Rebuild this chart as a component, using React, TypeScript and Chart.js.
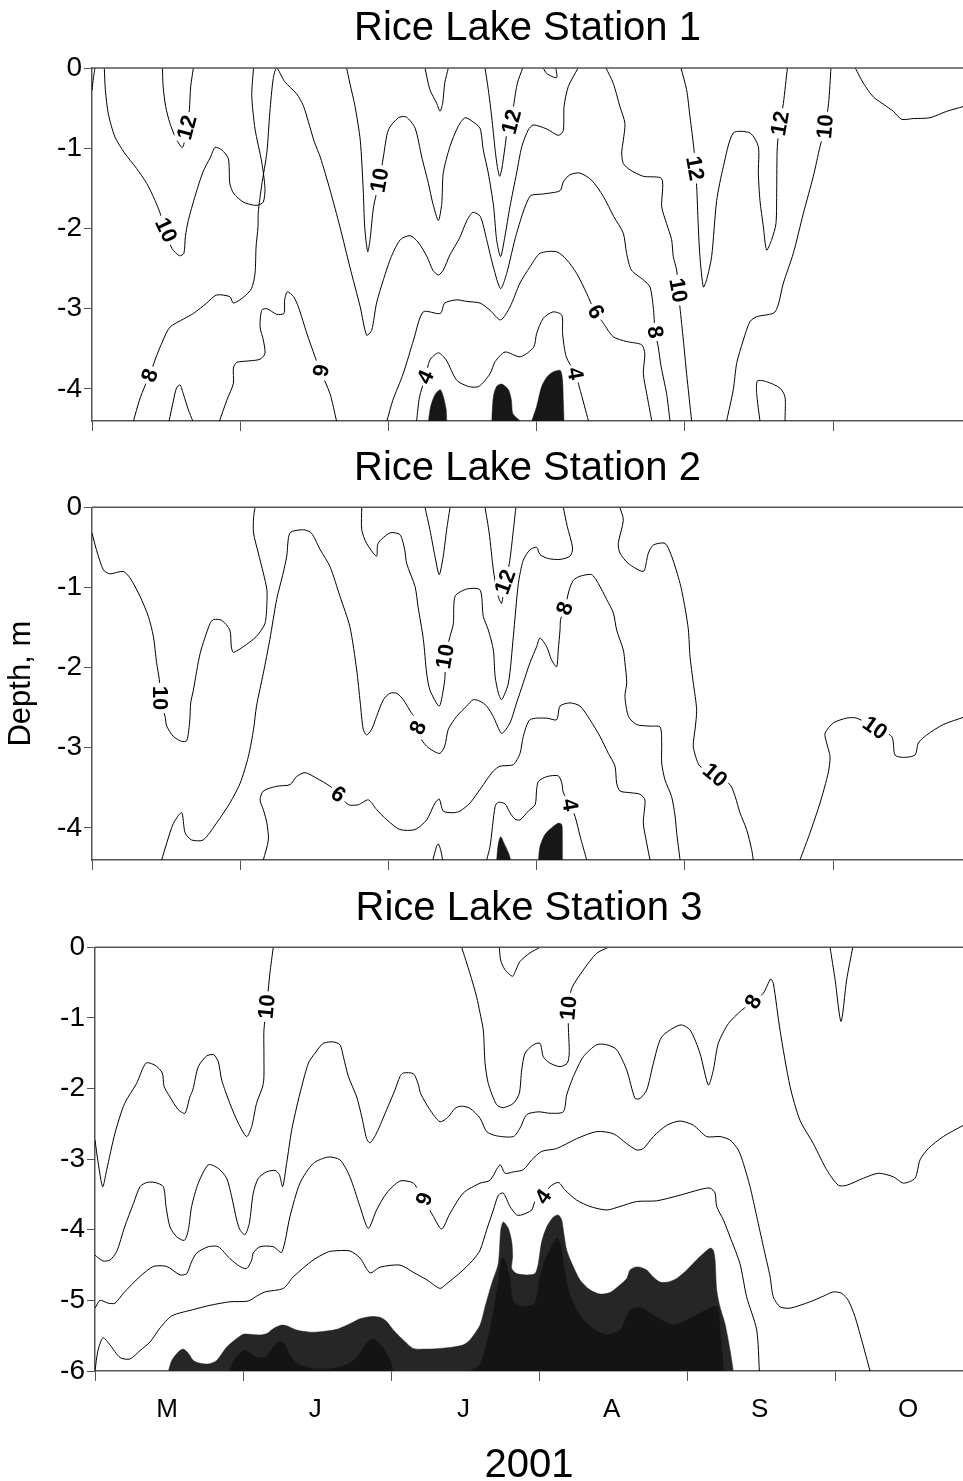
import React, { useEffect, useRef } from "react";
import { Chart, registerables } from "chart.js";
Chart.register(...registerables);

type P = [number, number];
type L = [string, number, number, number];

// x = months since 1 May 2001, y = depth (m)
const MONTHS = ["M", "J", "J", "A", "S", "O"];
const MONTH_TICKS = [0, 1, 2, 3, 4, 5];
const YEAR = "2001";
const TITLES = ["Rice Lake Station 1", "Rice Lake Station 2", "Rice Lake Station 3"];
const DEPTH_TICKS_A = [0, -1, -2, -3, -4];
const DEPTH_TICKS_B = [0, -1, -2, -3, -4, -5, -6];

// ---------- Station 1 isolines ----------
const s1_10edge: P[] = [[0, -0.28], [0.01, -0.12], [0.02, 0]];
const s1_10a: P[] = [[0.083, 0], [0.09, -0.27], [0.11, -0.57], [0.155, -0.86], [0.22, -1.06], [0.3, -1.25], [0.37, -1.44], [0.425, -1.65], [0.46, -1.81], [0.5, -2.05], [0.54, -2.25], [0.59, -2.34], [0.62, -2.31], [0.63, -2.1], [0.65, -1.9], [0.695, -1.6], [0.75, -1.29], [0.8, -1.11], [0.83, -0.99], [0.875, -1.02], [0.92, -1.13], [0.93, -1.44], [0.955, -1.56], [1.02, -1.67], [1.09, -1.71], [1.12, -1.71], [1.156, -1.67], [1.167, -1.5], [1.145, -1.17], [1.1, -0.76], [1.078, -0.34], [1.09, 0]];
const s1_12a: P[] = [[0.475, 0], [0.48, -0.23], [0.497, -0.48], [0.526, -0.69], [0.567, -0.88], [0.61, -0.99], [0.64, -0.76], [0.657, -0.52], [0.666, -0.23], [0.684, 0]];
const s1_8a: P[] = [[0.28, -4.4], [0.32, -4.14], [0.36, -3.95], [0.39, -3.83], [0.425, -3.64], [0.48, -3.39], [0.526, -3.23], [0.616, -3.13], [0.684, -3.06], [0.774, -2.93], [0.84, -2.83], [0.93, -2.85], [0.954, -2.93], [1.02, -2.86], [1.076, -2.75], [1.1, -2.56], [1.107, -2.23], [1.12, -1.98], [1.122, -1.8], [1.145, -1.46], [1.18, -1.05], [1.2, -0.55], [1.223, -0.13], [1.246, 0], [1.3, -0.17], [1.38, -0.32], [1.426, -0.47], [1.46, -0.67], [1.5, -0.92], [1.54, -1.11], [1.606, -1.52], [1.673, -1.98], [1.74, -2.48], [1.81, -2.98], [1.853, -3.33], [1.887, -3.27], [1.92, -2.93], [1.966, -2.64], [2.02, -2.35], [2.08, -2.14], [2.146, -2.09], [2.2, -2.17], [2.26, -2.35], [2.3, -2.52], [2.337, -2.58], [2.37, -2.52], [2.415, -2.33], [2.48, -2.12], [2.53, -1.9], [2.57, -1.8], [2.62, -1.85], [2.663, -2.14], [2.708, -2.48], [2.757, -2.75], [2.798, -2.56], [2.865, -2.06], [2.955, -1.6], [3.045, -1.57], [3.158, -1.53], [3.18, -1.42], [3.225, -1.33], [3.293, -1.31], [3.372, -1.4], [3.45, -1.6], [3.52, -1.85], [3.585, -2.06], [3.607, -2.31], [3.64, -2.52], [3.72, -2.64], [3.765, -2.73], [3.787, -2.98], [3.8, -3.29], [3.82, -3.47], [3.84, -3.72], [3.877, -4.06], [3.9, -4.4]];
const s1_8s: P[] = [[0.52, -4.4], [0.55, -4.14], [0.57, -3.99], [0.594, -3.95], [0.616, -4.06], [0.65, -4.26], [0.68, -4.4]];
const s1_6a: P[] = [[0.86, -4.4], [0.91, -4.14], [0.954, -3.93], [0.954, -3.74], [0.976, -3.67], [1.066, -3.65], [1.134, -3.63], [1.167, -3.56], [1.156, -3.39], [1.134, -3.23], [1.145, -3.02], [1.18, -3.0], [1.246, -3.07], [1.295, -3.06], [1.3, -2.89], [1.318, -2.79], [1.36, -2.85], [1.393, -2.98], [1.45, -3.31], [1.505, -3.6], [1.54, -3.77], [1.606, -4.06], [1.65, -4.4]];
const s1_10b: P[] = [[1.718, 0], [1.74, -0.19], [1.775, -0.48], [1.81, -0.9], [1.83, -1.52], [1.84, -1.98], [1.86, -2.29], [1.876, -2.14], [1.9, -1.73], [1.94, -1.4], [1.966, -1.11], [2.0, -0.77], [2.067, -0.62], [2.12, -0.61], [2.18, -0.75], [2.225, -1.11], [2.27, -1.44], [2.3, -1.69], [2.337, -1.9], [2.36, -1.69], [2.37, -1.31], [2.415, -0.98], [2.47, -0.73], [2.517, -0.62], [2.57, -0.67], [2.618, -0.75], [2.64, -1.02], [2.674, -1.31], [2.71, -1.73], [2.73, -2.14], [2.757, -2.35], [2.786, -2.1], [2.82, -1.73], [2.865, -1.31], [2.9, -0.98], [2.944, -0.77], [2.978, -0.71], [3.068, -0.76], [3.147, -0.84], [3.18, -0.78], [3.185, -0.48], [3.214, -0.23], [3.28, 0]];
const s1_12b: P[] = [[2.247, 0], [2.28, -0.27], [2.326, -0.44], [2.348, -0.54], [2.366, -0.44], [2.38, -0.19], [2.404, 0]];
const s1_12c: P[] = [[2.652, 0], [2.674, -0.27], [2.697, -0.61], [2.72, -1.02], [2.735, -1.23], [2.75, -1.35], [2.764, -1.27], [2.787, -0.98], [2.8, -0.81], [2.83, -0.67], [2.847, -0.44], [2.87, -0.19], [2.906, 0]];
const s1_12s: P[] = [[3.045, 0], [3.068, -0.07], [3.135, -0.12], [3.13, 0]];
const s1_6b: P[] = [[1.99, -4.4], [2.03, -4.14], [2.1, -3.81], [2.17, -3.39], [2.235, -3.04], [2.35, -3.06], [2.38, -2.93], [2.46, -2.89], [2.53, -2.91], [2.618, -2.93], [2.686, -3.02], [2.757, -3.14], [2.82, -2.98], [2.888, -2.68], [2.955, -2.48], [3.023, -2.31], [3.135, -2.29], [3.203, -2.39], [3.27, -2.56], [3.338, -2.81], [3.394, -3.04], [3.45, -3.18], [3.517, -3.35], [3.608, -3.41], [3.709, -3.45], [3.73, -3.56], [3.72, -3.81], [3.743, -4.06], [3.777, -4.4]];
const s1_4: P[] = [[2.19, -4.4], [2.21, -4.1], [2.25, -3.85], [2.28, -3.64], [2.337, -3.55], [2.39, -3.64], [2.46, -3.89], [2.54, -3.97], [2.61, -3.97], [2.686, -3.81], [2.72, -3.66], [2.787, -3.54], [2.89, -3.6], [2.98, -3.48], [3.0, -3.31], [3.045, -3.12], [3.11, -3.04], [3.17, -3.08], [3.175, -3.31], [3.2, -3.6], [3.26, -3.81], [3.29, -3.99], [3.35, -4.4]];
const s1_10c: P[] = [[3.468, 0], [3.517, -0.19], [3.562, -0.48], [3.596, -0.69], [3.585, -0.9], [3.574, -1.06], [3.585, -1.19], [3.63, -1.27], [3.72, -1.35], [3.844, -1.38], [3.844, -1.73], [3.877, -1.94], [3.911, -2.14], [3.922, -2.35], [3.945, -2.52], [3.956, -2.77], [3.967, -2.98], [3.99, -3.39], [4.012, -3.81], [4.046, -4.4]];
const s1_12d: P[] = [[3.974, 0], [4.012, -0.27], [4.035, -0.61], [4.062, -1.02], [4.069, -1.25], [4.08, -1.48], [4.09, -1.94], [4.102, -2.35], [4.125, -2.73], [4.147, -2.64], [4.181, -2.35], [4.215, -1.65], [4.26, -1.23], [4.327, -0.81], [4.44, -0.81], [4.496, -0.98], [4.496, -1.31], [4.507, -1.65], [4.53, -1.98], [4.552, -2.27], [4.586, -2.14], [4.615, -1.94], [4.62, -1.52], [4.624, -0.98], [4.642, -0.69], [4.665, -0.44], [4.692, 0]];
const s1_10d: P[] = [[4.986, 0], [4.97, -0.44], [4.946, -0.73], [4.912, -0.98], [4.867, -1.35], [4.8, -1.81], [4.732, -2.31], [4.665, -2.68], [4.609, -3.04], [4.485, -3.1], [4.44, -3.16], [4.395, -3.39], [4.35, -3.68], [4.327, -4.01], [4.282, -4.4]];
const s1_10e: P[] = [[4.507, -4.4], [4.485, -4.06], [4.49, -3.9], [4.552, -3.91], [4.642, -3.99], [4.676, -4.1], [4.676, -4.4]];
const s1_12e: P[] = [[5.15, 0], [5.205, -0.19], [5.272, -0.36], [5.362, -0.48], [5.407, -0.54], [5.463, -0.64], [5.542, -0.63], [5.654, -0.62], [5.767, -0.54], [5.88, -0.48]];
const s1_low1: P[] = [[2.27, -4.4], [2.285, -4.22], [2.315, -4.07], [2.35, -4.01], [2.37, -4.09], [2.39, -4.26], [2.394, -4.4]];
const s1_low2: P[] = [[2.697, -4.4], [2.708, -4.1], [2.73, -3.97], [2.764, -3.94], [2.81, -4.01], [2.83, -4.14], [2.84, -4.31], [2.89, -4.4]];
const s1_low3: P[] = [[2.967, -4.4], [3.0, -4.22], [3.034, -3.97], [3.07, -3.85], [3.11, -3.79], [3.16, -3.77], [3.175, -3.89], [3.18, -4.14], [3.185, -4.4]];
const s1_labels: L[] = [["12", 0.64, -0.74, -75], ["10", 0.5, -2.02, 65], ["10", 1.94, -1.4, -80], ["8", 0.39, -3.83, -70], ["6", 1.54, -3.77, 100], ["4", 2.25, -3.85, -65], ["4", 3.26, -3.81, 80], ["12", 2.83, -0.67, -75], ["6", 3.4, -3.04, 60], ["8", 3.8, -3.29, 80], ["10", 3.956, -2.77, 80], ["12", 4.069, -1.25, 80], ["12", 4.642, -0.69, -80], ["10", 4.946, -0.73, -85]];

// ---------- Station 2 isolines ----------
const s2_10a: P[] = [[0, -0.32], [0.03, -0.53], [0.077, -0.78], [0.12, -0.83], [0.21, -0.8], [0.256, -0.88], [0.324, -1.11], [0.38, -1.36], [0.414, -1.61], [0.436, -1.94], [0.454, -2.15], [0.46, -2.38], [0.493, -2.61], [0.504, -2.73], [0.55, -2.86], [0.605, -2.92], [0.64, -2.91], [0.66, -2.65], [0.666, -2.44], [0.684, -2.28], [0.73, -1.82], [0.796, -1.45], [0.82, -1.4], [0.875, -1.41], [0.93, -1.53], [0.94, -1.74], [0.954, -1.81], [1.02, -1.74], [1.11, -1.61], [1.167, -1.45], [1.18, -1.2], [1.18, -1.03], [1.156, -0.82], [1.122, -0.57], [1.09, -0.32], [1.09, -0.13], [1.1, 0]];
const s2_8a: P[] = [[0.47, -4.4], [0.504, -4.19], [0.55, -3.94], [0.605, -3.81], [0.628, -4.06], [0.672, -4.15], [0.75, -4.15], [0.84, -3.94], [0.93, -3.69], [1.0, -3.44], [1.055, -3.11], [1.09, -2.77], [1.11, -2.48], [1.156, -2.07], [1.2, -1.65], [1.246, -1.15], [1.29, -0.82], [1.314, -0.61], [1.336, -0.32], [1.426, -0.28], [1.48, -0.32], [1.54, -0.53], [1.606, -0.74], [1.673, -1.11], [1.74, -1.49], [1.786, -2.03], [1.81, -2.44], [1.83, -2.77], [1.853, -2.84], [1.887, -2.77], [1.92, -2.61], [1.966, -2.4], [2.01, -2.32], [2.056, -2.32], [2.1, -2.4], [2.157, -2.57], [2.19, -2.65], [2.2, -2.75], [2.224, -2.9], [2.258, -2.98], [2.303, -3.04], [2.348, -3.07], [2.38, -2.98], [2.404, -2.77], [2.46, -2.61], [2.528, -2.48], [2.573, -2.4], [2.618, -2.42], [2.663, -2.48], [2.708, -2.61], [2.764, -2.82], [2.82, -2.69], [2.865, -2.44], [2.91, -2.19], [2.955, -1.94], [3.0, -1.74], [3.023, -1.63], [3.068, -1.74], [3.1, -1.9], [3.135, -1.99], [3.146, -1.78], [3.158, -1.53], [3.162, -1.4], [3.19, -1.26], [3.22, -1.03], [3.248, -0.91], [3.293, -0.86], [3.371, -0.84], [3.416, -0.95], [3.473, -1.15], [3.518, -1.32], [3.54, -1.53], [3.585, -1.78], [3.596, -1.94], [3.608, -2.19], [3.596, -2.36], [3.62, -2.61], [3.675, -2.71], [3.765, -2.73], [3.833, -2.74], [3.844, -2.94], [3.844, -3.19], [3.866, -3.4], [3.911, -3.61], [3.934, -3.85], [3.945, -4.06], [3.968, -4.4]];
const s2_10b: P[] = [[1.82, 0], [1.82, -0.28], [1.853, -0.45], [1.92, -0.61], [1.93, -0.45], [2.01, -0.32], [2.078, -0.34], [2.11, -0.53], [2.123, -0.7], [2.18, -0.99], [2.2, -1.24], [2.236, -1.65], [2.258, -2.07], [2.28, -2.28], [2.343, -2.48], [2.37, -2.28], [2.382, -2.11], [2.382, -1.86], [2.416, -1.61], [2.438, -1.45], [2.45, -1.11], [2.528, -1.02], [2.618, -1.03], [2.64, -1.36], [2.674, -1.53], [2.708, -1.78], [2.72, -2.11], [2.742, -2.32], [2.764, -2.4], [2.81, -2.19], [2.843, -1.61], [2.877, -0.95], [2.91, -0.66], [2.955, -0.53], [3.0, -0.5], [3.023, -0.59], [3.08, -0.64], [3.158, -0.65], [3.225, -0.61], [3.243, -0.51], [3.207, -0.24], [3.18, 0]];
const s2_12a: P[] = [[2.247, 0], [2.28, -0.28], [2.314, -0.61], [2.343, -0.84], [2.37, -0.61], [2.393, -0.28], [2.416, 0]];
const s2_12b: P[] = [[2.652, 0], [2.68, -0.32], [2.708, -0.78], [2.73, -1.03], [2.748, -1.15], [2.764, -1.2], [2.787, -0.93], [2.816, -0.7], [2.838, -0.37], [2.86, 0]];
const s2_10c: P[] = [[3.562, 0], [3.585, -0.16], [3.551, -0.45], [3.562, -0.57], [3.618, -0.7], [3.72, -0.8], [3.743, -0.66], [3.754, -0.57], [3.788, -0.47], [3.866, -0.45], [3.911, -0.61], [3.968, -0.95], [4.0, -1.24], [4.024, -1.53], [4.035, -1.86], [4.057, -2.19], [4.08, -2.53], [4.069, -2.77], [4.057, -2.98], [4.08, -3.15], [4.102, -3.23], [4.204, -3.34], [4.305, -3.46], [4.34, -3.61], [4.372, -3.81], [4.417, -4.02], [4.451, -4.27], [4.462, -4.4]];
const s2_10d: P[] = [[4.777, -4.4], [4.845, -4.06], [4.912, -3.69], [4.968, -3.31], [4.98, -3.11], [4.957, -2.94], [4.946, -2.82], [5.002, -2.69], [5.092, -2.63], [5.16, -2.63], [5.283, -2.75], [5.396, -2.86], [5.418, -3.09], [5.474, -3.12], [5.553, -3.09], [5.576, -2.94], [5.632, -2.84], [5.744, -2.71], [5.88, -2.62]];
const s2_6: P[] = [[1.156, -4.4], [1.19, -4.15], [1.18, -3.94], [1.156, -3.77], [1.134, -3.65], [1.156, -3.54], [1.246, -3.48], [1.336, -3.46], [1.38, -3.36], [1.437, -3.31], [1.516, -3.38], [1.606, -3.48], [1.662, -3.58], [1.73, -3.71], [1.797, -3.71], [1.865, -3.65], [1.92, -3.77], [1.99, -3.9], [2.078, -4.02], [2.18, -4.02], [2.258, -3.9], [2.314, -3.69], [2.343, -3.64], [2.37, -3.79], [2.438, -3.81], [2.483, -3.79], [2.55, -3.69], [2.618, -3.52], [2.663, -3.4], [2.708, -3.29], [2.753, -3.23], [2.843, -3.21], [2.888, -3.07], [2.91, -2.86], [2.955, -2.65], [3.068, -2.63], [3.135, -2.65], [3.158, -2.48], [3.225, -2.44], [3.293, -2.48], [3.36, -2.65], [3.428, -2.86], [3.484, -3.07], [3.529, -3.23], [3.54, -3.44], [3.563, -3.54], [3.63, -3.56], [3.698, -3.58], [3.731, -3.65], [3.72, -3.94], [3.743, -4.19], [3.765, -4.4]];
const s2_4: P[] = [[2.663, -4.4], [2.686, -4.23], [2.72, -3.73], [2.742, -3.68], [2.787, -3.7], [2.82, -3.81], [2.854, -3.89], [2.888, -3.9], [2.944, -3.79], [2.99, -3.71], [3.0, -3.52], [3.012, -3.42], [3.068, -3.36], [3.146, -3.35], [3.17, -3.44], [3.18, -3.56], [3.225, -3.71], [3.26, -3.86], [3.293, -4.1], [3.338, -4.4]];
const s2_4s: P[] = [[2.3, -4.4], [2.325, -4.23], [2.337, -4.2], [2.352, -4.27], [2.366, -4.4]];
const s2_low1: P[] = [[2.73, -4.4], [2.742, -4.19], [2.758, -4.11], [2.78, -4.19], [2.81, -4.31], [2.825, -4.4]];
const s2_low2: P[] = [[3.012, -4.4], [3.023, -4.23], [3.057, -4.08], [3.1, -4.0], [3.146, -3.94], [3.17, -3.96], [3.175, -4.14], [3.175, -4.4]];
const s2_labels: L[] = [["10", 0.46, -2.38, 90], ["8", 2.2, -2.75, -65], ["10", 2.382, -1.86, -80], ["6", 1.662, -3.58, 35], ["12", 2.787, -0.93, -70], ["8", 3.19, -1.26, -70], ["4", 3.225, -3.71, 80], ["10", 4.204, -3.34, 40], ["10", 5.283, -2.75, 35]];

// ---------- Station 3 isolines ----------
const s3_10a: P[] = [[0, -2.73], [0.022, -3.06], [0.052, -3.39], [0.079, -3.15], [0.135, -2.63], [0.2, -2.21], [0.28, -1.93], [0.344, -1.64], [0.405, -1.67], [0.454, -1.78], [0.466, -1.97], [0.506, -2.12], [0.562, -2.3], [0.607, -2.35], [0.64, -2.12], [0.66, -2.02], [0.697, -1.69], [0.753, -1.54], [0.8, -1.52], [0.832, -1.62], [0.855, -1.88], [0.91, -2.21], [0.967, -2.49], [1.023, -2.68], [1.057, -2.54], [1.09, -2.21], [1.136, -1.93], [1.14, -1.55], [1.14, -1.17], [1.158, -0.84], [1.18, -0.37], [1.203, 0]];
const s3_8: P[] = [[0, -4.36], [0.052, -4.44], [0.1, -4.43], [0.146, -4.31], [0.2, -3.96], [0.259, -3.63], [0.304, -3.39], [0.349, -3.33], [0.405, -3.33], [0.461, -3.39], [0.479, -3.67], [0.506, -3.96], [0.551, -4.1], [0.603, -4.15], [0.63, -4.0], [0.652, -3.67], [0.697, -3.34], [0.765, -3.08], [0.832, -3.13], [0.888, -3.27], [0.922, -3.53], [0.956, -3.86], [0.978, -4.0], [1.012, -4.07], [1.041, -3.91], [1.068, -3.48], [1.102, -3.27], [1.158, -3.18], [1.215, -3.16], [1.244, -3.22], [1.266, -3.39], [1.293, -3.06], [1.327, -2.59], [1.361, -2.26], [1.395, -1.97], [1.44, -1.64], [1.484, -1.5], [1.54, -1.36], [1.608, -1.34], [1.653, -1.38], [1.676, -1.55], [1.71, -1.83], [1.766, -2.12], [1.8, -2.4], [1.833, -2.71], [1.856, -2.77], [1.9, -2.63], [1.968, -2.3], [2.024, -2.02], [2.058, -1.83], [2.08, -1.78], [2.148, -1.79], [2.18, -1.93], [2.197, -2.07], [2.26, -2.3], [2.328, -2.47], [2.384, -2.4], [2.43, -2.28], [2.474, -2.25], [2.53, -2.28], [2.598, -2.42], [2.643, -2.61], [2.71, -2.67], [2.823, -2.68], [2.868, -2.56], [2.913, -2.37], [2.992, -2.33], [3.07, -2.35], [3.16, -2.33], [3.183, -2.09], [3.228, -1.83], [3.295, -1.55], [3.385, -1.38], [3.453, -1.38], [3.52, -1.45], [3.588, -1.74], [3.644, -2.14], [3.678, -2.14], [3.723, -2.02], [3.768, -1.64], [3.824, -1.27], [3.948, -1.1], [4.015, -1.17], [4.082, -1.5], [4.139, -1.95], [4.172, -1.74], [4.206, -1.36], [4.274, -1.08], [4.364, -0.89], [4.442, -0.77], [4.51, -0.65], [4.559, -0.45], [4.577, -0.51], [4.622, -1.17], [4.69, -1.97], [4.757, -2.45], [4.847, -2.78], [4.937, -3.15], [5.016, -3.37], [5.072, -3.37], [5.185, -3.27], [5.286, -3.2], [5.387, -3.25], [5.455, -3.34], [5.533, -3.27], [5.567, -3.01], [5.623, -2.85], [5.724, -2.68], [5.86, -2.52]];
const s3_10b: P[] = [[2.474, 0], [2.53, -0.37], [2.575, -0.7], [2.598, -0.93], [2.62, -1.17], [2.632, -1.64], [2.654, -1.93], [2.71, -2.23], [2.755, -2.27], [2.823, -2.21], [2.863, -2.07], [2.879, -1.74], [2.902, -1.5], [2.958, -1.38], [3.003, -1.36], [3.025, -1.55], [3.07, -1.64], [3.138, -1.69], [3.187, -1.64], [3.2, -1.5], [3.194, -1.12], [3.194, -0.86], [3.217, -0.58], [3.295, -0.32], [3.385, -0.085], [3.464, 0]];
const s3_10c: P[] = [[2.728, 0], [2.737, -0.18], [2.767, -0.32], [2.818, -0.41], [2.84, -0.32], [2.868, -0.2], [2.935, -0.08], [3.003, 0]];
const s3_8b: P[] = [[4.96, 0], [4.994, -0.46], [5.034, -1.05], [5.072, -0.46], [5.113, 0]];
const s3_6: P[] = [[0, -5.11], [0.034, -5.0], [0.09, -5.04], [0.135, -5.04], [0.191, -4.9], [0.304, -4.66], [0.394, -4.52], [0.484, -4.52], [0.574, -4.64], [0.619, -4.62], [0.652, -4.45], [0.686, -4.33], [0.765, -4.24], [0.832, -4.24], [0.911, -4.41], [0.978, -4.52], [1.023, -4.55], [1.057, -4.43], [1.068, -4.33], [1.113, -4.24], [1.203, -4.24], [1.26, -4.32], [1.316, -3.81], [1.383, -3.34], [1.473, -3.06], [1.574, -2.97], [1.653, -3.01], [1.72, -3.25], [1.788, -3.67], [1.844, -3.98], [1.9, -3.72], [1.968, -3.48], [2.058, -3.31], [2.148, -3.34], [2.215, -3.56], [2.283, -3.81], [2.339, -3.99], [2.395, -3.77], [2.485, -3.48], [2.598, -3.34], [2.665, -3.3], [2.733, -3.08], [2.767, -3.2], [2.823, -3.18], [2.89, -3.15], [2.947, -3.01], [3.014, -2.89], [3.115, -2.85], [3.25, -2.71], [3.385, -2.61], [3.498, -2.64], [3.588, -2.78], [3.655, -2.87], [3.7, -2.85], [3.768, -2.68], [3.858, -2.52], [3.948, -2.46], [4.038, -2.52], [4.127, -2.68], [4.217, -2.68], [4.285, -2.73], [4.341, -2.87], [4.375, -3.06], [4.42, -3.39], [4.465, -3.81], [4.51, -4.24], [4.555, -4.66], [4.577, -4.95], [4.622, -5.09], [4.69, -5.11], [4.825, -5.02], [4.915, -4.94], [4.982, -4.88], [5.038, -4.9], [5.083, -5.0], [5.128, -5.23], [5.173, -5.56], [5.23, -6]];
const s3_4: P[] = [[0, -6], [0.02, -5.71], [0.054, -5.53], [0.101, -5.63], [0.169, -5.81], [0.236, -5.83], [0.304, -5.71], [0.371, -5.59], [0.439, -5.39], [0.518, -5.22], [0.663, -5.13], [0.776, -5.07], [0.911, -5.02], [1.034, -5.01], [1.091, -4.94], [1.147, -4.88], [1.271, -4.83], [1.336, -4.67], [1.471, -4.43], [1.565, -4.32], [1.606, -4.3], [1.72, -4.3], [1.788, -4.4], [1.856, -4.61], [1.923, -4.53], [2.058, -4.5], [2.146, -4.6], [2.24, -4.71], [2.328, -4.83], [2.375, -4.76], [2.463, -4.61], [2.55, -4.43], [2.598, -4.29], [2.643, -4.0], [2.688, -3.72], [2.722, -3.51], [2.755, -3.48], [2.8, -3.67], [2.845, -3.79], [2.879, -3.79], [2.947, -3.72], [2.969, -3.6], [3.025, -3.53], [3.07, -3.39], [3.127, -3.33], [3.172, -3.44], [3.25, -3.58], [3.34, -3.67], [3.453, -3.72], [3.543, -3.67], [3.655, -3.6], [3.79, -3.59], [3.948, -3.51], [4.083, -3.43], [4.15, -3.41], [4.184, -3.48], [4.195, -3.67], [4.24, -3.86], [4.285, -4.1], [4.352, -4.48], [4.397, -4.95], [4.465, -5.42], [4.483, -6]];
const s3_low: P[] = [[0.495, -6], [0.518, -5.85], [0.562, -5.73], [0.596, -5.69], [0.63, -5.75], [0.663, -5.85], [0.708, -5.89], [0.765, -5.9], [0.821, -5.85], [0.889, -5.66], [0.956, -5.54], [1.0, -5.48], [1.046, -5.48], [1.113, -5.49], [1.159, -5.47], [1.203, -5.4], [1.26, -5.35], [1.294, -5.36], [1.361, -5.42], [1.451, -5.45], [1.54, -5.44], [1.631, -5.41], [1.72, -5.33], [1.788, -5.26], [1.856, -5.23], [1.923, -5.24], [1.968, -5.3], [2.013, -5.42], [2.08, -5.56], [2.148, -5.68], [2.238, -5.69], [2.328, -5.68], [2.418, -5.66], [2.485, -5.63], [2.53, -5.56], [2.598, -5.35], [2.632, -5.09], [2.677, -4.76], [2.721, -4.48], [2.738, -4.0], [2.755, -3.89], [2.789, -3.98], [2.812, -4.17], [2.818, -4.38], [2.812, -4.55], [2.845, -4.62], [2.913, -4.64], [2.969, -4.62], [2.991, -4.48], [3.014, -4.17], [3.048, -3.96], [3.093, -3.82], [3.126, -3.79], [3.149, -3.86], [3.16, -4.0], [3.183, -4.29], [3.227, -4.52], [3.273, -4.71], [3.34, -4.85], [3.408, -4.91], [3.475, -4.89], [3.543, -4.78], [3.588, -4.69], [3.61, -4.57], [3.644, -4.53], [3.678, -4.53], [3.723, -4.57], [3.767, -4.67], [3.812, -4.74], [3.868, -4.74], [3.925, -4.69], [3.993, -4.57], [4.082, -4.38], [4.15, -4.26], [4.172, -4.29], [4.184, -4.43], [4.195, -4.85], [4.217, -5.09], [4.251, -5.33], [4.285, -5.7], [4.307, -6]];
const s3_lowerA: P[] = [[0.911, -6], [0.933, -5.87], [0.978, -5.75], [1.012, -5.71], [1.046, -5.75], [1.091, -5.81], [1.147, -5.81], [1.181, -5.73], [1.215, -5.63], [1.248, -5.59], [1.282, -5.63], [1.305, -5.75], [1.361, -5.89], [1.451, -5.96], [1.586, -5.97], [1.721, -5.89], [1.788, -5.75], [1.833, -5.61], [1.867, -5.55], [1.9, -5.57], [1.946, -5.68], [1.99, -5.85], [2.013, -6]];
const s3_lowerB: P[] = [[2.53, -6], [2.598, -5.91], [2.665, -5.42], [2.721, -4.76], [2.744, -4.41], [2.766, -4.43], [2.8, -4.71], [2.823, -5.02], [2.89, -5.09], [2.969, -5.04], [3.003, -4.67], [3.036, -4.43], [3.07, -4.29], [3.115, -4.12], [3.138, -4.19], [3.16, -4.48], [3.194, -4.85], [3.25, -5.14], [3.34, -5.37], [3.453, -5.49], [3.543, -5.42], [3.588, -5.23], [3.61, -5.14], [3.677, -5.1], [3.745, -5.18], [3.824, -5.28], [3.902, -5.35], [3.993, -5.28], [4.082, -5.18], [4.172, -5.09], [4.206, -5.11], [4.217, -5.42], [4.229, -5.7], [4.24, -6]];
const s3_labels: L[] = [["10", 1.158, -0.84, -85], ["6", 2.215, -3.56, 110], ["10", 3.194, -0.86, -85], ["4", 3.025, -3.53, -55], ["8", 4.442, -0.77, -60]];

const FONT = "'Liberation Sans', Arial, Helvetica, sans-serif";
const AXIS = "#555";

const labelPlugin = {
  id: "contourLabels",
  afterDatasetsDraw(chart: any, _a: any, opts: any) {
    const items: L[] = opts.items || [];
    const { ctx, chartArea } = chart;
    const xs = chart.scales.x, ys = chart.scales.y;
    ctx.save();
    ctx.beginPath();
    ctx.rect(chartArea.left, chartArea.top, chartArea.width, chartArea.height);
    ctx.clip();
    ctx.font = `bold 22px ${FONT}`;
    ctx.textAlign = "center";
    ctx.textBaseline = "middle";
    for (const [t, x, y, a] of items) {
      const px = xs.getPixelForValue(x), py = ys.getPixelForValue(y);
      ctx.save();
      ctx.translate(px, py);
      ctx.rotate((a * Math.PI) / 180);
      const w = ctx.measureText(t).width;
      ctx.fillStyle = "#fff";
      ctx.fillRect(-w / 2 - 3, -10, w + 6, 20);
      ctx.fillStyle = "#000";
      ctx.fillText(t, 0, 1);
      ctx.restore();
    }
    ctx.restore();
  },
};

const topLinePlugin = {
  id: "topLine",
  afterDraw(chart: any) {
    const { ctx, chartArea } = chart;
    ctx.save();
    ctx.strokeStyle = AXIS;
    ctx.lineWidth = 1.5;
    ctx.beginPath();
    ctx.moveTo(chartArea.left, chartArea.top);
    ctx.lineTo(chartArea.right, chartArea.top);
    ctx.stroke();
    ctx.restore();
  },
};

const toXY = (pts: P[]) => pts.map(([x, y]) => ({ x, y }));
const line = (pts: P[]) => ({
  data: toXY(pts), borderColor: "#000", borderWidth: 1, pointRadius: 0,
  tension: 0.25, fill: false, order: 1,
});
const area = (pts: P[], color: string, order: number) => ({
  data: toXY(pts), borderColor: color, borderWidth: 0.5, backgroundColor: color,
  pointRadius: 0, tension: 0.25, fill: "start", order,
});

interface PanelSpec {
  title: string;
  lines: P[][];
  fills: { pts: P[]; color: string; order: number }[];
  labels: L[];
  yMin: number;
  yTicks: number[];
  height: number;
  left: number;
  titlePad: { top: number; bottom: number };
  xHeight: number;
  xMax: number;
  depthTitle: boolean;
  monthLabels: boolean;
}

function makeConfig(p: PanelSpec): any {
  return {
    type: "line",
    data: {
      datasets: [
        ...p.lines.map(line),
        ...p.fills.map((f) => area(f.pts, f.color, f.order)),
      ],
    },
    options: {
      responsive: false,
      animation: false,
      devicePixelRatio: 1,
      parsing: false,
      layout: { padding: 0 },
      plugins: {
        legend: { display: false },
        tooltip: { enabled: false },
        title: {
          display: true,
          fullSize: false,
          text: p.title,
          color: "#000",
          font: { family: FONT, size: 40, weight: "normal", lineHeight: 1.2 },
          padding: p.titlePad,
        },
        contourLabels: { items: p.labels },
      },
      scales: {
        x: {
          type: "linear",
          min: 0,
          max: p.xMax,
          afterBuildTicks: (s: any) => { s.ticks = MONTH_TICKS.map((v) => ({ value: v })); },
          afterFit: (s: any) => { s.height = p.xHeight; },
          grid: { drawOnChartArea: false, tickLength: 10, color: AXIS, lineWidth: 1 },
          border: { display: true, color: AXIS, width: 1.5 },
          ticks: {
            display: p.monthLabels,
            autoSkip: false,
            maxRotation: 0,
            labelOffset: 72,
            padding: 13,
            color: "#000",
            font: { family: FONT, size: 26 },
            callback: (v: number) => MONTHS[Math.round(v)] ?? "",
          },
          title: {
            display: p.monthLabels,
            text: YEAR,
            color: "#000",
            font: { family: FONT, size: 40, lineHeight: 1.2 },
            padding: { top: 0, bottom: -9 },
          },
        },
        y: {
          type: "linear",
          min: p.yMin,
          max: 0,
          afterBuildTicks: (s: any) => { s.ticks = p.yTicks.map((v) => ({ value: v })); },
          afterFit: (s: any) => { s.width = p.left; },
          grid: { drawOnChartArea: false, tickLength: 8, color: AXIS, lineWidth: 1 },
          border: { display: true, color: AXIS, width: 1.5 },
          ticks: {
            padding: 2,
            color: "#000",
            font: { family: FONT, size: 28 },
            callback: (v: number) => String(v),
          },
          title: {
            display: p.depthTitle,
            text: "Depth, m",
            color: "#000",
            font: { family: FONT, size: 31, lineHeight: 1.2 },
            padding: { top: 3, bottom: 0 },
          },
        },
      },
    },
    plugins: [labelPlugin, topLinePlugin],
  };
}

const LOW = "#171717";
const PANELS: { top: number; spec: PanelSpec }[] = [
  {
    top: 0,
    spec: {
      title: TITLES[0],
      lines: [s1_10edge, s1_10a, s1_12a, s1_8a, s1_8s, s1_6a, s1_10b, s1_12b, s1_12c, s1_12s, s1_6b, s1_4, s1_10c, s1_12d, s1_10d, s1_10e, s1_12e],
      fills: [{ pts: s1_low1, color: LOW, order: 2 }, { pts: s1_low2, color: LOW, order: 2 }, { pts: s1_low3, color: LOW, order: 2 }],
      labels: s1_labels,
      yMin: -4.4,
      yTicks: DEPTH_TICKS_A,
      height: 440,
      left: 92,
      titlePad: { top: 4.6, bottom: 15.4 },
      xHeight: 19,
      xMax: 5.877,
      depthTitle: false,
      monthLabels: false,
    },
  },
  {
    top: 440,
    spec: {
      title: TITLES[1],
      lines: [s2_10a, s2_8a, s2_10b, s2_12a, s2_12b, s2_10c, s2_10d, s2_6, s2_4, s2_4s],
      fills: [{ pts: s2_low1, color: LOW, order: 2 }, { pts: s2_low2, color: LOW, order: 2 }],
      labels: s2_labels,
      yMin: -4.4,
      yTicks: DEPTH_TICKS_A,
      height: 440,
      left: 92,
      titlePad: { top: 4.6, bottom: 14.7 },
      xHeight: 20,
      xMax: 5.877,
      depthTitle: true,
      monthLabels: false,
    },
  },
  {
    top: 880,
    spec: {
      title: TITLES[2],
      lines: [s3_10a, s3_8, s3_10b, s3_10c, s3_8b, s3_6, s3_4],
      fills: [{ pts: s3_low, color: "#262626", order: 3 }, { pts: s3_lowerA, color: "#141414", order: 2 }, { pts: s3_lowerB, color: "#141414", order: 2 }],
      labels: s3_labels,
      yMin: -6,
      yTicks: DEPTH_TICKS_B,
      height: 601,
      left: 95,
      titlePad: { top: 4.6, bottom: 14.7 },
      xHeight: 110,
      xMax: 5.857,
      depthTitle: false,
      monthLabels: true,
    },
  },
];

function Panel({ spec, top }: { spec: PanelSpec; top: number }) {
  const ref = useRef<HTMLCanvasElement>(null);
  useEffect(() => {
    if (!ref.current) return;
    const chart = new Chart(ref.current, makeConfig(spec));
    return () => chart.destroy();
  }, [spec]);
  return (
    <canvas
      ref={ref}
      width={963}
      height={spec.height}
      style={{ position: "absolute", left: 0, top, width: 963, height: spec.height }}
    />
  );
}

export default function App() {
  return (
    <div style={{ position: "absolute", left: 0, top: 0, width: 963, height: 1481, background: "#fff", overflow: "hidden" }}>
      {PANELS.map((p, i) => (
        <Panel key={i} spec={p.spec} top={p.top} />
      ))}
    </div>
  );
}
